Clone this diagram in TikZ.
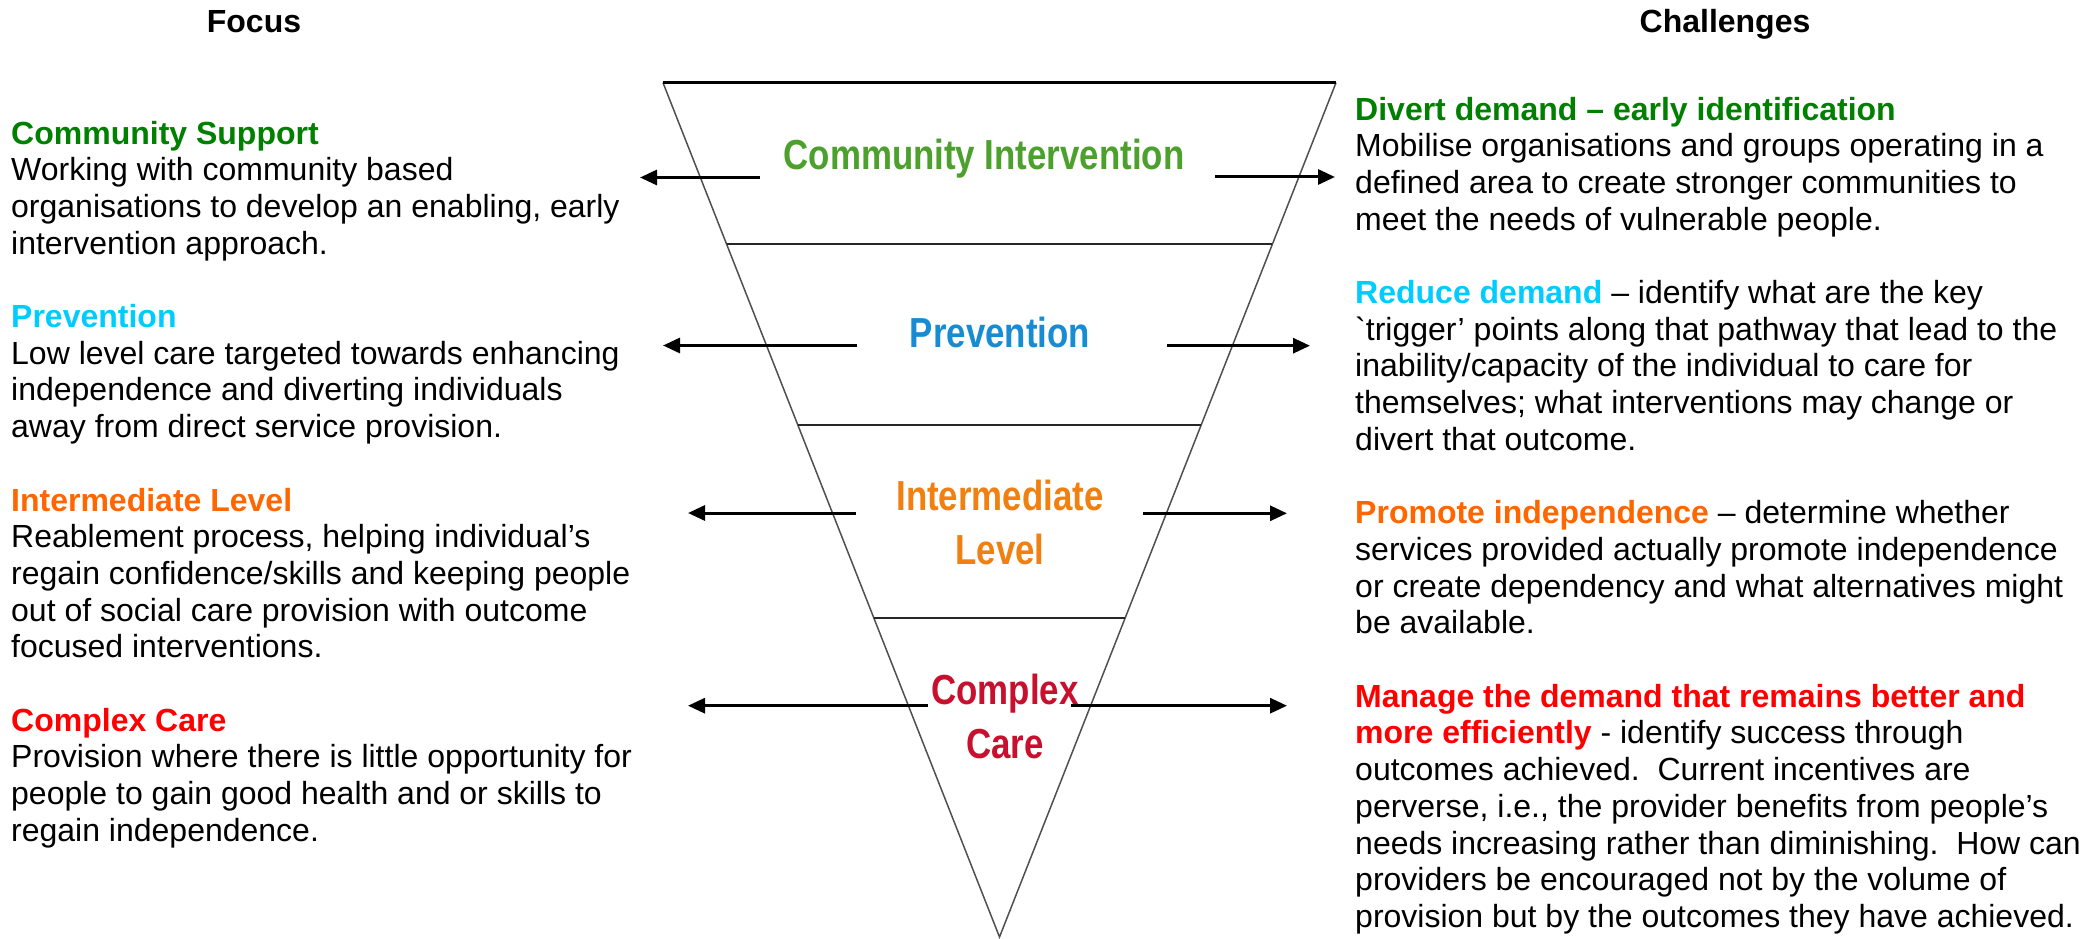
\documentclass[tikz,border=0pt]{standalone}
\usepackage{fontspec}
\setmainfont{Liberation Sans}
\newfontfamily\narrowfont[FakeStretch=0.83]{Liberation Sans}
\usetikzlibrary{arrows.meta}
\definecolor{hgreen}{RGB}{0,128,0}
\definecolor{hcyan}{RGB}{0,204,255}
\definecolor{horange}{RGB}{255,102,0}
\definecolor{hred}{RGB}{255,0,0}
\definecolor{tgreen}{RGB}{76,160,44}
\definecolor{tblue}{RGB}{24,140,210}
\definecolor{torange}{RGB}{240,128,16}
\definecolor{tred}{RGB}{200,16,46}
\definecolor{sidegray}{RGB}{80,80,80}
\begin{document}
\begin{tikzpicture}[x=1pt,y=-1pt,
  body/.style={anchor=base west, inner sep=0pt, align=left, font=\fontsize{32}{36.7}\selectfont},
  coltitle/.style={anchor=base, inner sep=0pt, font=\fontsize{32}{36.7}\selectfont\bfseries},
  tlabel/.style={anchor=base, inner sep=0pt, align=center, font=\narrowfont\fontsize{42}{54}\selectfont\bfseries},
  conn/.style={line width=3pt, -{Triangle[length=17pt,width=15pt]}},
  side/.style={draw=sidegray, line width=1.5pt},
  divider/.style={draw=black!85, line width=2.5pt},
]
\fill[white] (0,0) rectangle (2089,939);
\useasboundingbox (0,0) rectangle (2089,939);

% funnel
\coordinate (tl) at (663,82.7);
\coordinate (tr) at (1336,82.7);
\coordinate (apex) at (999.5,937);
\draw[side] (tl) -- (apex) -- (tr);
\draw[black, line width=2.5pt] (tl) -- (tr);
\coordinate (d1l) at (726.6,244);
\coordinate (d1r) at (1272.4,244);
\coordinate (d2l) at (797.9,425);
\coordinate (d2r) at (1201.1,425);
\coordinate (d3l) at (873.9,618);
\coordinate (d3r) at (1125.1,618);
\draw[divider] (d1l) -- (d1r);
\draw[divider] (d2l) -- (d2r);
\draw[divider] (d3l) -- (d3r);

% funnel labels (base anchor = last line)
\node[tlabel, text=tgreen] (ci) at (984,170) {Community Intervention};
\node[tlabel, text=tblue] (pv) at (1000,347) {Prevention};
\node[tlabel, text=torange] (il) at (1000,564) {Intermediate\\Level};
\node[tlabel, text=tred] (cc) at (1005,758) {Complex\\Care};

% column titles
\node[coltitle] (focus) at (254,33) {Focus};
\node[coltitle] (chal) at (1725,33) {Challenges};

% left text (base anchor = last line)
\node[body] (cs) at (11,254.1) {\textcolor{hgreen}{\bfseries Community Support}\\
Working with community based\\
organisations to develop an enabling, early\\
intervention approach.};
\node[body] (pr) at (11,437.6) {\textcolor{hcyan}{\bfseries Prevention}\\
Low level care targeted towards enhancing\\
independence and diverting individuals\\
away from direct service provision.};
\node[body] (ilv) at (11,657.8) {\textcolor{horange}{\bfseries Intermediate Level}\\
Reablement process, helping individual’s\\
regain confidence/skills and keeping people\\
out of social care provision with outcome\\
focused interventions.};
\node[body] (ccr) at (11,841.3) {\textcolor{hred}{\bfseries Complex Care}\\
Provision where there is little opportunity for\\
people to gain good health and or skills to\\
regain independence.};

% right text
\node[body] (dd) at (1355,230.1) {\textcolor{hgreen}{\bfseries Divert demand – early identification}\\
Mobilise organisations and groups operating in a\\
defined area to create stronger communities to\\
meet the needs of vulnerable people.};
\node[body] (rd) at (1355,450.3) {\textcolor{hcyan}{\bfseries Reduce demand} – identify what are the key\\
\textasciigrave trigger’ points along that pathway that lead to the\\
inability/capacity of the individual to care for\\
themselves; what interventions may change or\\
divert that outcome.};
\node[body] (pi) at (1355,633.8) {\textcolor{horange}{\bfseries Promote independence} – determine whether\\
services provided actually promote independence\\
or create dependency and what alternatives might\\
be available.};
\node[body] (md) at (1355,927.4) {\textcolor{hred}{\bfseries Manage the demand that remains better and}\\
\textcolor{hred}{\bfseries more efficiently} - identify success through\\
outcomes achieved.\ \ Current incentives are\\
perverse, i.e., the provider benefits from people’s\\
needs increasing rather than diminishing.\ \ How can\\
providers be encouraged not by the volume of\\
provision but by the outcomes they have achieved.};

% arrows
\coordinate (l1s) at (760,177.5);  \coordinate (l1e) at (640,177.5);
\coordinate (l2s) at (857,345.5);  \coordinate (l2e) at (663,345.5);
\coordinate (l3s) at (856,513);    \coordinate (l3e) at (688,513);
\coordinate (l4s) at (928,705.7);  \coordinate (l4e) at (688,705.7);
\coordinate (r1s) at (1215,177);   \coordinate (r1e) at (1335,177);
\coordinate (r2s) at (1167,345.7); \coordinate (r2e) at (1310,345.7);
\coordinate (r3s) at (1143,513.3); \coordinate (r3e) at (1287,513.3);
\coordinate (r4s) at (1071,705.7); \coordinate (r4e) at (1287,705.7);
\draw[conn] (l1s) -- (l1e);
\draw[conn] (l2s) -- (l2e);
\draw[conn] (l3s) -- (l3e);
\draw[conn] (l4s) -- (l4e);
\draw[conn] (r1s) -- (r1e);
\draw[conn] (r2s) -- (r2e);
\draw[conn] (r3s) -- (r3e);
\draw[conn] (r4s) -- (r4e);
\end{tikzpicture}
\end{document}
